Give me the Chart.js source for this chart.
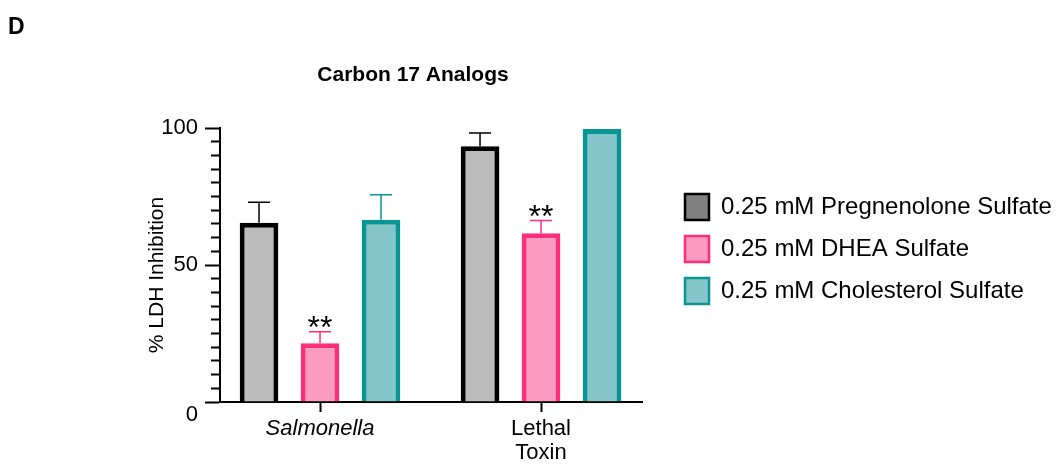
<!DOCTYPE html>
<html>
<head>
<meta charset="utf-8">
<script src="https://cdn.jsdelivr.net/npm/chart.js@4"></script>
<style>
  html, body { margin: 0; padding: 0; background: #fff; }
  canvas { display: block; }
</style>
</head>
<body>
<canvas id="chart" width="1060" height="464"></canvas>
<script>
// values
const categories = ['Salmonella', ['Lethal', 'Toxin']];
const seriesNames = ['0.25 mM Pregnenolone Sulfate', '0.25 mM DHEA Sulfate', '0.25 mM Cholesterol Sulfate'];
const pregnenolone = [65.4, 93.3];
const pregnenoloneErr = [7.5, 4.9];
const dhea = [21.4, 61.6];
const dheaErr = [4.2, 4.6];
const cholesterol = [66.5, 99.6];
const cholesterolErr = [9.1, 0];
const dheaStars = ['**', '**'];
const yTicks = [0, 50, 100];

const FONT = "'Liberation Sans', Arial, sans-serif";

// GraphPad style axes: outer box sizes
const yAxisWidth = 220;
const xAxisHeight = 62;
const legendWidth = 418;
// category axis has a bit less than half a group of space at each end
const xStart = -0.4526;
const xRange = 1.9095;

const errorBars = {
  id: 'errorBars',
  afterDatasetsDraw(chart) {
    const ctx = chart.ctx;
    const y = chart.scales.y;
    chart.data.datasets.forEach((ds, di) => {
      const meta = chart.getDatasetMeta(di);
      meta.data.forEach((bar, i) => {
        const err = ds.errors[i];
        let top = bar.y;
        if (err) {
          top = y.getPixelForValue(ds.data[i] + err);
          ctx.save();
          ctx.strokeStyle = ds.errorColor;
          ctx.lineWidth = 1.5;
          ctx.beginPath();
          ctx.moveTo(bar.x, bar.y);
          ctx.lineTo(bar.x, top);
          ctx.moveTo(bar.x - 11, top);
          ctx.lineTo(bar.x + 11, top);
          ctx.stroke();
          ctx.restore();
        }
        if (ds.stars && ds.stars[i]) {
          ctx.save();
          ctx.fillStyle = '#000';
          ctx.font = '32px ' + FONT;
          ctx.textAlign = 'center';
          ctx.textBaseline = 'alphabetic';
          ctx.fillText(ds.stars[i], bar.x, top + 6);
          ctx.restore();
        }
      });
    });
  }
};

// panel letter, title and y axis title (placed like the GraphPad export)
const panelText = {
  id: 'panelText',
  afterDraw(chart) {
    const ctx = chart.ctx;
    const area = chart.chartArea;
    ctx.save();
    ctx.fillStyle = '#000';
    ctx.font = 'bold 23px ' + FONT;
    ctx.textAlign = 'left';
    ctx.textBaseline = 'alphabetic';
    ctx.fillText('D', 8, 34);
    ctx.font = 'bold 21px ' + FONT;
    ctx.textAlign = 'center';
    ctx.fillText('Carbon 17 Analogs', 413, 81);
    ctx.translate(157, (area.top + area.bottom) / 2 + 10);
    ctx.rotate(-Math.PI / 2);
    ctx.font = '21px ' + FONT;
    ctx.textBaseline = 'middle';
    ctx.fillText('% LDH Inhibition', 0, 0);
    ctx.restore();
  }
};

// legend sits a bit away from the plot, like the original
const legendPlace = {
  id: 'legendPlace',
  beforeInit(chart) {
    const legend = chart.legend;
    const fit = legend.fit;
    legend.fit = function () {
      fit.call(this);
      this.width = legendWidth;
    };
  },
  afterLayout(chart) {
    chart.legend.left = chart.chartArea.right + 27;
    chart.legend.top = 178;
  }
};

const legendFills = ['#808080', '#fb9bbf', '#84c6c9'];

new Chart(document.getElementById('chart'), {
  type: 'bar',
  data: {
    labels: categories,
    datasets: [
      {
        label: seriesNames[0], data: pregnenolone, errors: pregnenoloneErr,
        backgroundColor: '#bcbcbc', borderColor: '#000000', errorColor: '#000000'
      },
      {
        label: seriesNames[1], data: dhea, errors: dheaErr, stars: dheaStars,
        backgroundColor: '#fb9bbf', borderColor: '#fd2f7b', errorColor: '#fd2f7b'
      },
      {
        label: seriesNames[2], data: cholesterol, errors: cholesterolErr,
        backgroundColor: '#84c6c9', borderColor: '#089593', errorColor: '#089593'
      }
    ]
  },
  options: {
    responsive: false,
    animation: false,
    devicePixelRatio: 1,
    layout: { padding: { top: 128, left: 0, right: 0, bottom: 0 } },
    datasets: {
      bar: { borderWidth: 5, categoryPercentage: 0.828, barPercentage: 0.634 }
    },
    plugins: {
      tooltip: { enabled: false },
      title: { display: false },
      legend: {
        position: 'right',
        align: 'start',
        labels: {
          color: '#000',
          font: { family: FONT, size: 24 },
          boxWidth: 24,
          boxHeight: 26,
          padding: 16,
          generateLabels(chart) {
            return Chart.defaults.plugins.legend.labels.generateLabels(chart).map((item, i) => {
              item.fillStyle = legendFills[i];
              item.lineWidth = 2.5;
              return item;
            });
          }
        }
      }
    },
    scales: {
      x: {
        type: 'category',
        offset: true,
        z: 1,
        afterBuildTicks(scale) {
          scale._startValue = xStart;
          scale._valueRange = xRange;
        },
        afterFit(scale) { scale.height = xAxisHeight; },
        ticks: {
          autoSkip: false,
          maxRotation: 0,
          padding: 5,
          color: '#000',
          font: (c) => ({ family: FONT, size: 22, lineHeight: 1.1, style: c.index === 0 ? 'italic' : 'normal' })
        },
        grid: { offset: false, drawOnChartArea: false, tickLength: 10, tickWidth: 2, tickColor: '#000' },
        border: { display: true, width: 2, color: '#000' }
      },
      y: {
        min: 0,
        max: 100,
        afterFit(scale) { scale.width = yAxisWidth; },
        ticks: {
          stepSize: 5,
          autoSkip: false,
          padding: 7,
          color: '#000',
          font: { family: FONT, size: 22 },
          callback: (v) => {
            if (!yTicks.includes(v)) return '';
            return v === 0 ? ['', '0'] : String(v);
          }
        },
        grid: {
          drawOnChartArea: false,
          tickLength: 15,
          tickWidth: 2,
          tickColor: '#000',
          // short minor ticks: dash hides the outer part of the tick
          tickBorderDash: (c) => (c.tick && yTicks.includes(c.tick.value) ? [] : [8, 6]),
          tickBorderDashOffset: (c) => (c.tick && yTicks.includes(c.tick.value) ? 0 : 8)
        },
        border: { display: true, width: 2, color: '#000' },
        title: { display: false }
      }
    }
  },
  plugins: [errorBars, panelText, legendPlace]
});
</script>
</body>
</html>
